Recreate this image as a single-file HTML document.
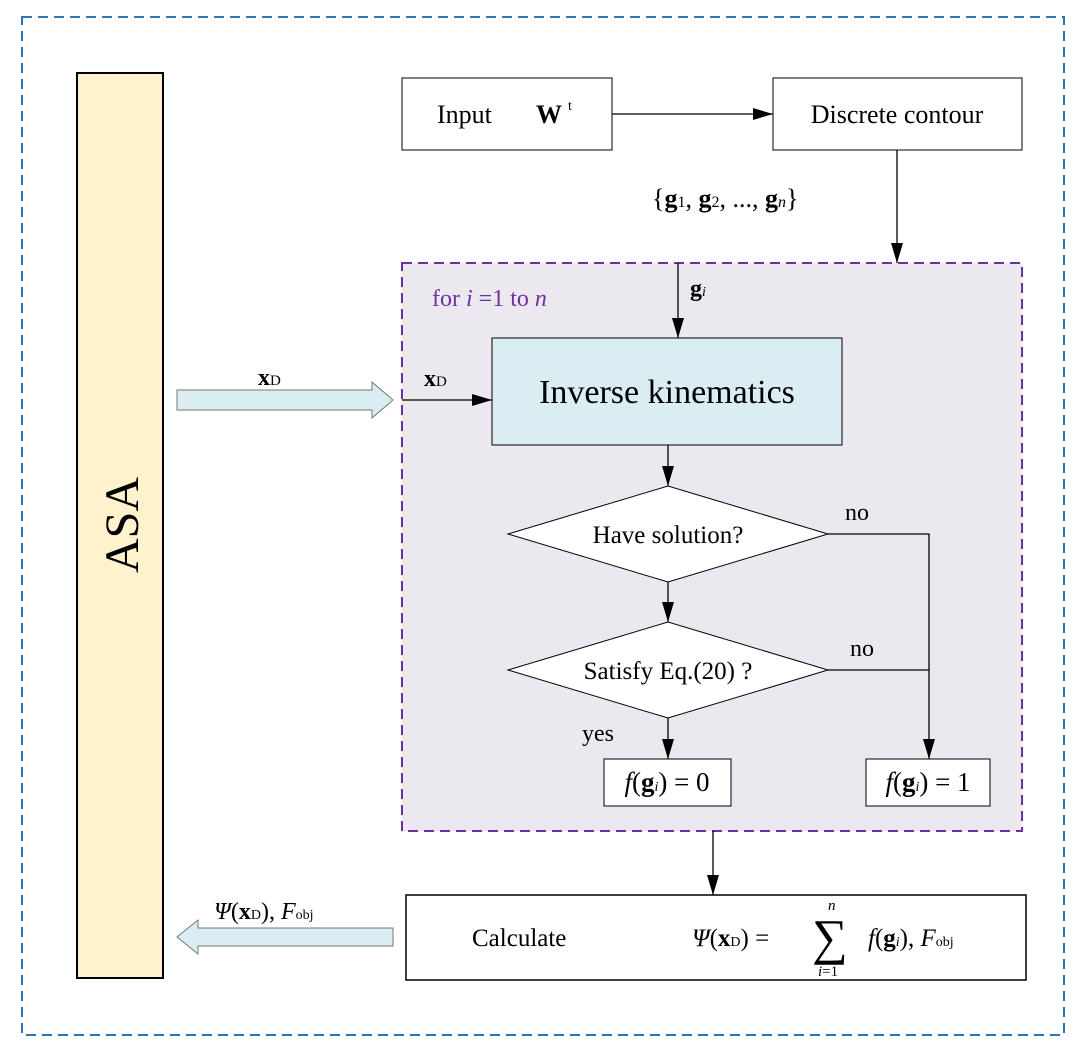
<!DOCTYPE html>
<html><head><meta charset="utf-8"><style>body{margin:0;background:#fff}svg{display:block}text{font-family:"Liberation Serif",serif}</style></head><body>
<svg width="1086" height="1062" viewBox="0 0 1086 1062" xmlns="http://www.w3.org/2000/svg">
<defs><marker id="b" markerWidth="20" markerHeight="12" refX="20" refY="6" orient="auto" markerUnits="userSpaceOnUse"><path d="M0,0 L20,6 L0,12 z" fill="#000"/></marker></defs>
<rect x="22" y="17" width="1042" height="1018" fill="none" stroke="#2e75b6" stroke-width="2" stroke-dasharray="10,6"/>
<rect x="77" y="73" width="86" height="905" fill="#fff2cc" stroke="#000" stroke-width="2"/>
<text transform="translate(138,525) rotate(-90)" text-anchor="middle" font-size="48">ASA</text>
<rect x="402" y="78" width="210" height="72" fill="#fff" stroke="#000"/>
<text x="437" y="123" font-size="26">Input</text><text x="536" y="123" font-size="26" font-weight="bold">W</text><text x="568" y="110" font-size="14">t</text>
<rect x="773" y="78" width="249" height="72" fill="#fff" stroke="#000"/>
<text x="897" y="123" font-size="26" text-anchor="middle">Discrete contour</text>
<line x1="612" y1="114" x2="773" y2="114" stroke="#000" stroke-width="1.3" marker-end="url(#b)"/>
<text x="652" y="207" font-size="26">{<tspan font-weight="bold">g</tspan><tspan font-size="16">1</tspan>, <tspan font-weight="bold">g</tspan><tspan font-size="16">2</tspan>, ..., <tspan font-weight="bold">g</tspan><tspan font-size="16" font-style="italic">n</tspan>}</text>
<line x1="897" y1="150" x2="897" y2="263" stroke="#000" stroke-width="1.3" marker-end="url(#b)"/>
<rect x="402" y="263" width="620" height="568" fill="#ece8f0" stroke="#7030a0" stroke-width="2" stroke-dasharray="10,6"/>
<text x="432" y="306" font-size="24" fill="#7030a0">for <tspan font-style="italic">i</tspan> =1 to <tspan font-style="italic">n</tspan></text>
<text x="690" y="296" font-size="24" font-weight="bold">g<tspan font-size="14" font-weight="normal" font-style="italic">i</tspan></text>
<line x1="678" y1="263" x2="678" y2="338" stroke="#000" stroke-width="1.3" marker-end="url(#b)"/>
<rect x="492" y="338" width="350" height="107" fill="#daedf3" stroke="#000"/>
<text x="667" y="403" font-size="34" text-anchor="middle">Inverse kinematics</text>
<polygon points="177,390 372,390 372,382 393,400 372,418 372,410 177,410" fill="#daedf3" stroke="#777"/>
<text x="258" y="385" font-size="24" font-weight="bold">x<tspan font-size="15" font-weight="normal">D</tspan></text>
<text x="424" y="386" font-size="24" font-weight="bold">x<tspan font-size="15" font-weight="normal">D</tspan></text>
<line x1="402" y1="400" x2="492" y2="400" stroke="#000" stroke-width="1.3" marker-end="url(#b)"/>
<line x1="668" y1="445" x2="668" y2="486" stroke="#000" stroke-width="1.3" marker-end="url(#b)"/>
<polygon points="508,534 668,486 828,534 668,582" fill="#fff" stroke="#000"/>
<text x="668" y="543" font-size="25" text-anchor="middle">Have solution?</text>
<line x1="668" y1="582" x2="668" y2="622" stroke="#000" stroke-width="1.3" marker-end="url(#b)"/>
<polygon points="508,670 668,622 828,670 668,718" fill="#fff" stroke="#000"/>
<text x="668" y="679" font-size="25" text-anchor="middle">Satisfy Eq.(20) ?</text>
<polyline points="828,534 929,534 929,759" fill="none" stroke="#000" stroke-width="1.3" marker-end="url(#b)"/>
<line x1="828" y1="670" x2="929" y2="670" stroke="#000" stroke-width="1.3"/>
<text x="845" y="520" font-size="24">no</text><text x="850" y="656" font-size="24">no</text>
<text x="582" y="741" font-size="24">yes</text>
<line x1="668" y1="718" x2="668" y2="759" stroke="#000" stroke-width="1.3" marker-end="url(#b)"/>
<rect x="604" y="759" width="127" height="47" fill="#fff" stroke="#000"/>
<text x="667" y="791" font-size="27" text-anchor="middle"><tspan font-style="italic">f</tspan>(<tspan font-weight="bold">g</tspan><tspan font-size="14" font-style="italic">i</tspan>) = 0</text>
<rect x="866" y="759" width="124" height="47" fill="#fff" stroke="#000"/>
<text x="928" y="791" font-size="27" text-anchor="middle"><tspan font-style="italic">f</tspan>(<tspan font-weight="bold">g</tspan><tspan font-size="14" font-style="italic">i</tspan>) = 1</text>
<line x1="713" y1="831" x2="713" y2="895" stroke="#000" stroke-width="1.3" marker-end="url(#b)"/>
<rect x="406" y="895" width="620" height="85" fill="#fff" stroke="#000" stroke-width="1.5"/>
<text x="472" y="946" font-size="25">Calculate</text>
<text x="692" y="946" font-size="25"><tspan font-style="italic">Ψ</tspan>(<tspan font-weight="bold">x</tspan><tspan font-size="14">D</tspan>) =</text>
<text x="812" y="954" font-size="50">∑</text>
<text x="828" y="910" font-size="15" font-style="italic">n</text>
<text x="818" y="976" font-size="15"><tspan font-style="italic">i</tspan>=1</text>
<text x="868" y="946" font-size="25"><tspan font-style="italic">f</tspan>(<tspan font-weight="bold">g</tspan><tspan font-size="14" font-style="italic">i</tspan>), <tspan font-style="italic">F</tspan><tspan font-size="14">obj</tspan></text>
<polygon points="393,928 198,928 198,920 177,937 198,954 198,946 393,946" fill="#daedf3" stroke="#777"/>
<text x="214" y="919" font-size="24"><tspan font-style="italic">Ψ</tspan>(<tspan font-weight="bold">x</tspan><tspan font-size="14">D</tspan>), <tspan font-style="italic">F</tspan><tspan font-size="14">obj</tspan></text>
</svg>
</body></html>
